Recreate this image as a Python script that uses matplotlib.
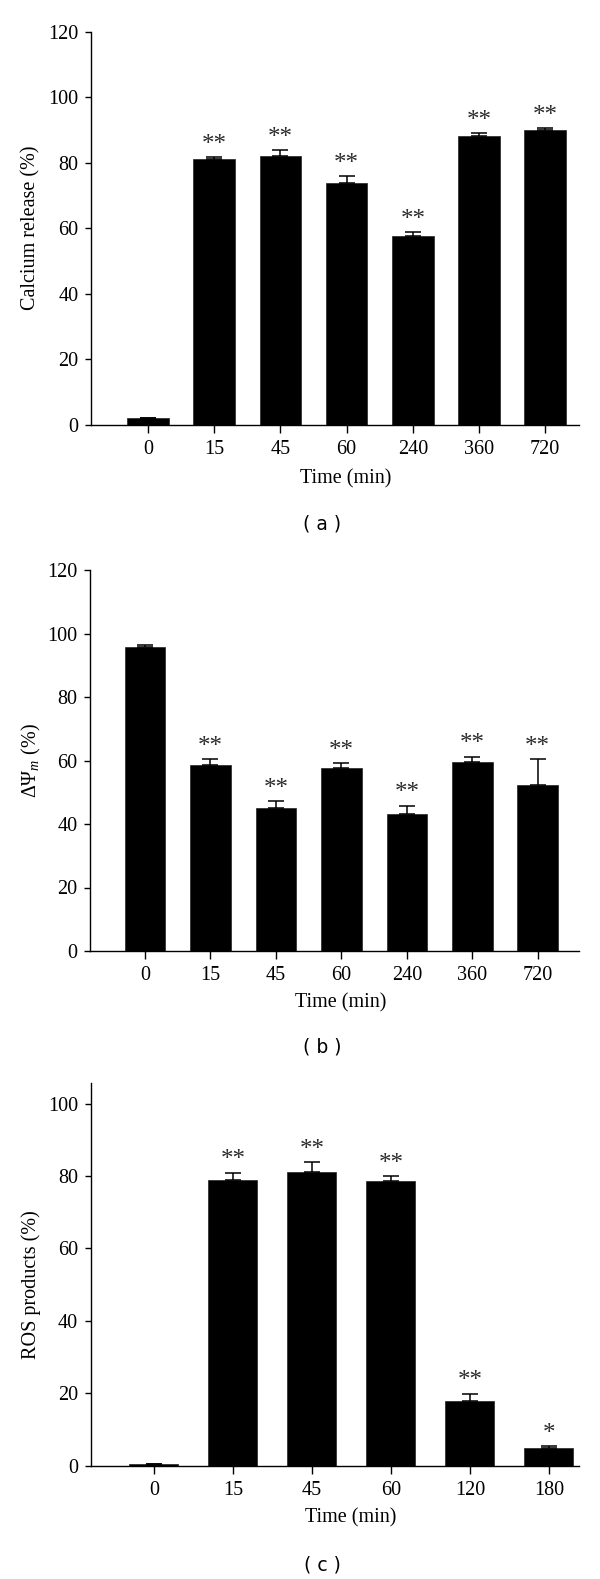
"""Three bar panels: calcium release, membrane potential and ROS over time."""

import matplotlib.pyplot as plt
import numpy as np

# (a) calcium release
times_a = ["0", "15", "45", "60", "240", "360", "720"]
calcium = [2.0, 81.3, 82.2, 73.9, 57.8, 88.1, 90.0]
calcium_err = [0.0, 0.5, 1.7, 2.1, 1.1, 0.9, 0.5]
stars_a = ["", "**", "**", "**", "**", "**", "**"]

# (b) mitochondrial membrane potential
times_b = ["0", "15", "45", "60", "240", "360", "720"]
delta_psi = [95.8, 58.7, 44.9, 57.5, 43.3, 59.4, 52.3]
delta_psi_err = [0.5, 1.8, 2.3, 1.6, 2.5, 1.8, 8.1]
stars_b = ["", "**", "**", "**", "**", "**", "**"]

# (c) ROS products
times_c = ["0", "15", "45", "60", "120", "180"]
ros = [0.6, 78.8, 81.1, 78.5, 18.0, 5.0]
ros_err = [0.0, 2.1, 2.8, 1.4, 1.9, 0.4]
stars_c = ["", "**", "**", "**", "**", "*"]

plt.rcParams["font.family"] = ["Liberation Serif", "DejaVu Serif"]
plt.rcParams["mathtext.fontset"] = "custom"
plt.rcParams["mathtext.rm"] = "Liberation Serif"
plt.rcParams["mathtext.it"] = "Liberation Serif:italic"

W, H = 600, 1579
FS = 14.5


def draw_panel(fig, rect, labels, values, errs, stars, ylabel, ylim, yticks,
               xlim, width, xlabel_x, xlabel_y, ylabel_y, tag, tag_y):
    left, top, right, bottom = rect
    ax = fig.add_axes([left / W, 1 - bottom / H, (right - left) / W, (bottom - top) / H])
    x = np.arange(len(labels))
    ax.bar(x, values, width=width, color="black", edgecolor="#222222", linewidth=0.5)
    ax.errorbar(x, values, yerr=[np.zeros(len(errs)), errs], fmt="none",
                ecolor="black", elinewidth=1.1, capsize=6, capthick=1.1)
    for xi, v, e, s in zip(x, values, errs, stars):
        if s:
            ax.annotate(s, (xi, v + e), xytext=(0, 1), textcoords="offset points",
                        ha="center", va="bottom", fontsize=18, color="#2a2a2a")

    ax.set_xlim(*xlim)
    ax.set_ylim(*ylim)
    ax.set_yticks(yticks)
    ax.set_xticks(x)
    ax.set_xticklabels(labels)
    for side in ("top", "right"):
        ax.spines[side].set_visible(False)
    for side in ("left", "bottom"):
        ax.spines[side].set_linewidth(1.0)
    ax.tick_params(axis="x", length=6, width=1.0, pad=5, labelsize=FS)
    ax.tick_params(axis="y", length=4, width=1.0, pad=5, labelsize=FS)

    ax.set_xlabel("Time (min)", fontsize=FS)
    ax.xaxis.label.set_verticalalignment("center")
    ax.xaxis.set_label_coords((xlabel_x - left) / (right - left),
                              (bottom - xlabel_y) / (bottom - top))
    ax.set_ylabel(ylabel, fontsize=FS)
    ax.yaxis.label.set_verticalalignment("center")
    ax.yaxis.set_label_coords((31 - left) / (right - left),
                              (bottom - ylabel_y) / (bottom - top))

    fig.text(322 / W, 1 - tag_y / H, tag, ha="center", va="center",
             fontsize=13.5, family="DejaVu Sans")
    return ax


def main() -> None:
    fig = plt.figure(figsize=(W / 100, H / 100), dpi=100)

    draw_panel(fig, (91, 31.7, 579, 425), times_a, calcium, calcium_err, stars_a,
               "Calcium release (%)", (0, 120), np.arange(0, 121, 20),
               (-0.86, 6.51), 0.63, 346, 479, 228, "( a )", 524)

    draw_panel(fig, (90, 570, 579, 951), times_b, delta_psi, delta_psi_err, stars_b,
               r"$\Delta\Psi_{m}$ (%)", (0, 120), np.arange(0, 121, 20),
               (-0.84, 6.63), 0.62, 341, 1003, 761, "( b )", 1047)

    draw_panel(fig, (90.7, 1083, 579, 1465.7), times_c, ros, ros_err, stars_c,
               "ROS products (%)", (0, 105.7), np.arange(0, 101, 20),
               (-0.80, 5.38), 0.62, 351, 1518, 1285, "( c )", 1565)

    fig.savefig("out.png", dpi=100)


if __name__ == "__main__":
    main()
